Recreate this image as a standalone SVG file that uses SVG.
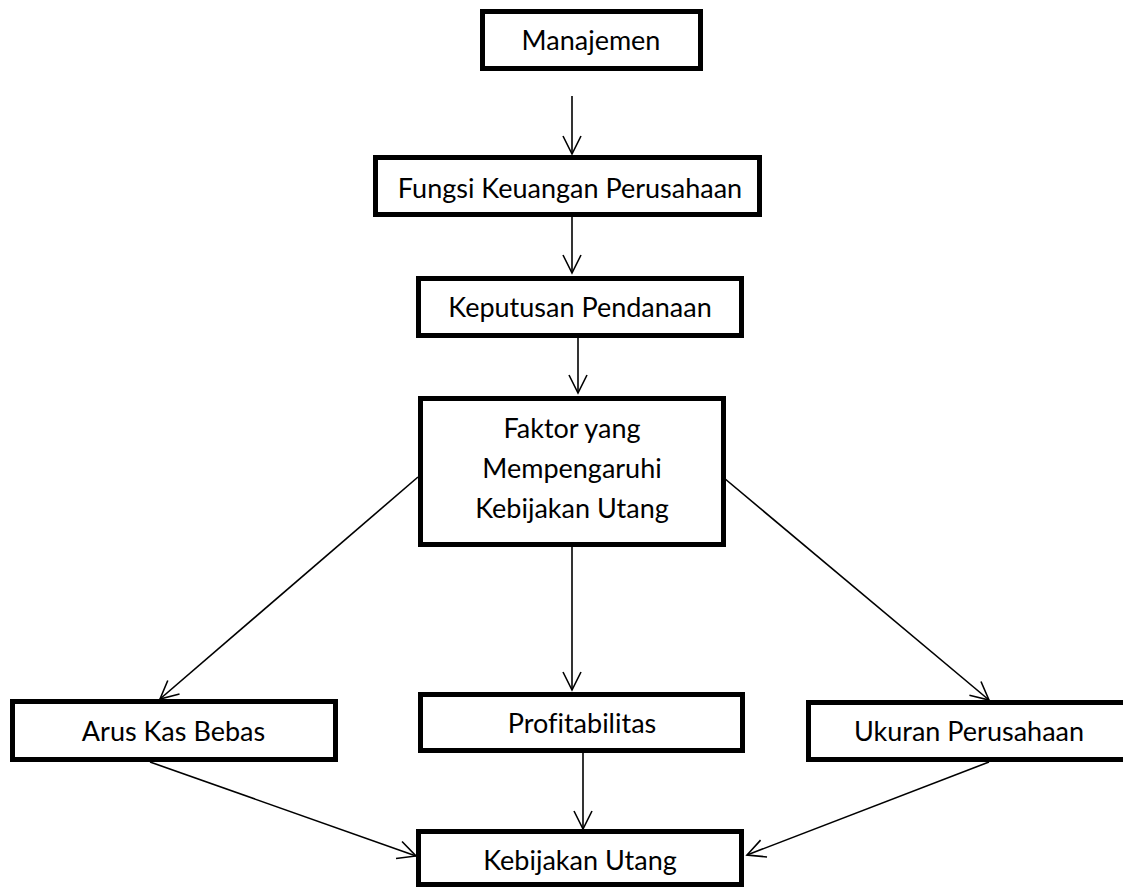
<svg xmlns="http://www.w3.org/2000/svg" width="1123" height="888" viewBox="0 0 1123 888">
<defs>
<style>
.box{fill:#fff;stroke:#000;stroke-width:5}
.lbl{font-family:Lato,"Liberation Sans",sans-serif;font-size:27px;fill:#000;text-anchor:middle;font-variant-ligatures:none}
.con{stroke:#000;stroke-width:1.6;fill:none;marker-end:url(#arr)}
</style>
<marker id="arr" markerUnits="userSpaceOnUse" viewBox="-20 -11 22 22" refX="0" refY="0" markerWidth="22" markerHeight="22" orient="auto">
<path d="M-18,-9 L0,0 L-18,9" fill="none" stroke="#000" stroke-width="1.6"/>
</marker>
</defs>
<rect width="1123" height="888" fill="#fff"/>
<g id="connectors">
<line class="con" x1="572" y1="96" x2="572" y2="154"/>
<line class="con" x1="572" y1="217" x2="572" y2="273"/>
<line class="con" x1="578" y1="338" x2="578" y2="393"/>
<line class="con" x1="418" y1="477" x2="160" y2="699"/>
<line class="con" x1="724" y1="478" x2="989" y2="700"/>
<line class="con" x1="572" y1="547" x2="572" y2="690"/>
<line class="con" x1="583" y1="753" x2="583" y2="829"/>
<line class="con" x1="150" y1="762" x2="416" y2="856"/>
<line class="con" x1="989" y1="762" x2="747" y2="855"/>
</g>
<g id="manajemen">
<rect class="box" x="482.5" y="11.5" width="218" height="57"/>
<text class="lbl" x="591" y="50">Manajemen</text>
</g>
<g id="fungsi">
<rect class="box" x="375.5" y="157.5" width="384" height="57"/>
<text class="lbl" x="570" y="198">Fungsi Keuangan Perusahaan</text>
</g>
<g id="keputusan">
<rect class="box" x="418.5" y="278.5" width="323" height="57"/>
<text class="lbl" x="580" y="317">Keputusan Pendanaan</text>
</g>
<g id="faktor">
<rect class="box" x="420.5" y="398.5" width="303" height="146"/>
<text class="lbl" x="572" y="438">Faktor yang</text>
<text class="lbl" x="572" y="478">Mempengaruhi</text>
<text class="lbl" x="572" y="518">Kebijakan Utang</text>
</g>
<g id="arus">
<rect class="box" x="12.5" y="701.5" width="323" height="58"/>
<text class="lbl" x="173.5" y="741">Arus Kas Bebas</text>
</g>
<g id="profitabilitas">
<rect class="box" x="420.5" y="694.5" width="322" height="56"/>
<text class="lbl" x="582" y="733">Profitabilitas</text>
</g>
<g id="ukuran">
<rect class="box" x="808.5" y="702.5" width="320" height="57"/>
<text class="lbl" x="969" y="741">Ukuran Perusahaan</text>
</g>
<g id="kebijakan">
<rect class="box" x="418.5" y="831.5" width="323" height="53"/>
<text class="lbl" x="580" y="870">Kebijakan Utang</text>
</g>
</svg>
